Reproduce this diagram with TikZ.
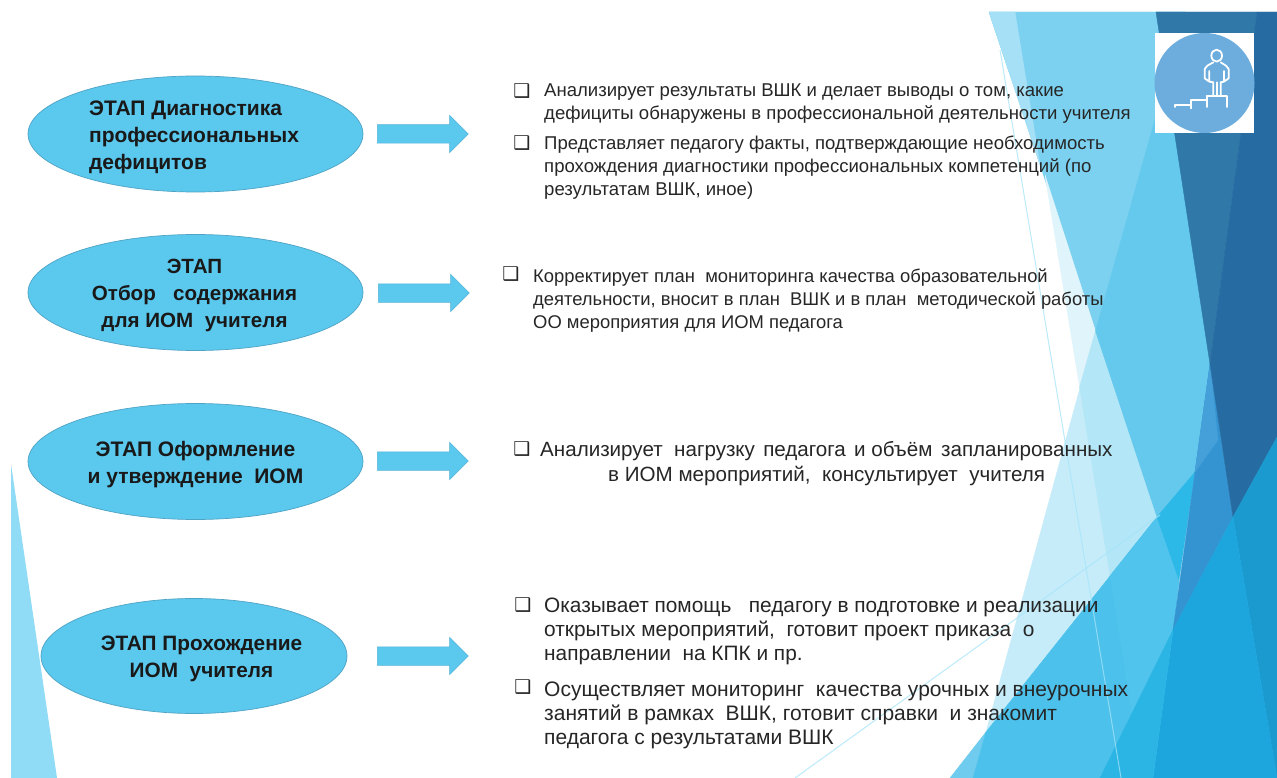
\documentclass[tikz,border=0pt]{standalone}
\usepackage{fontspec}
\setmainfont{Liberation Sans}
\newfontfamily\symfont{DejaVu Sans}
\usetikzlibrary{shapes.geometric,shapes.arrows}
\definecolor{txt}{HTML}{262626}
\definecolor{stagefill}{HTML}{5BC8EE}
\definecolor{stageedge}{HTML}{4FA3C4}
\definecolor{arrowedge}{HTML}{58B4D8}
\definecolor{cTri}{HTML}{90DBF6}
\definecolor{cA}{HTML}{7CD1F0}
\definecolor{cWedge}{HTML}{A5E0F6}
\definecolor{cB}{HTML}{64C9EC}
\definecolor{cT}{HTML}{C6ECF9}
\definecolor{cP}{HTML}{DFF4FB}
\definecolor{cTP}{HTML}{B3E6F6}
\definecolor{cLow}{HTML}{6FCCEE}
\definecolor{cC}{HTML}{4CC1EB}
\definecolor{cCr}{HTML}{50C4EC}
\definecolor{cW}{HTML}{2DB9E8}
\definecolor{cDl}{HTML}{2F78A8}
\definecolor{cDr}{HTML}{266BA1}
\definecolor{cSu}{HTML}{459FD8}
\definecolor{cSl}{HTML}{3494D1}
\definecolor{cEa}{HTML}{1A9ACE}
\definecolor{cEb}{HTML}{1DA6DD}
\definecolor{cEc}{HTML}{2AB5E5}
\definecolor{cThin}{HTML}{A5E4F9}
\definecolor{cIcon}{HTML}{6CADDE}
\tikzset{
  stage/.style={ellipse,draw=stageedge,line width=.7pt,fill=stagefill,inner sep=0pt,minimum width=335pt,minimum height=116pt},
  stagetext/.style={inner sep=0pt,text=black!90,font=\fontsize{21}{27}\selectfont\bfseries,yshift=-3pt},
  flow/.style={single arrow,draw=arrowedge,line width=.5pt,fill=stagefill,inner xsep=0pt,inner ysep=9pt,minimum width=37pt,minimum height=91pt,single arrow head extend=9.5pt,anchor=west},
  lst/.style={anchor=north west,inner sep=0pt,align=left,text=txt},
  small/.style={font=\fontsize{18.4}{23}\selectfont},
  smallb/.style={font=\fontsize{18.55}{23}\selectfont},
  large/.style={font=\fontsize{20.6}{24}\selectfont},
  largeb/.style={font=\fontsize{20.85}{24}\selectfont},
  largec/.style={font=\fontsize{21}{24}\selectfont},
  bul/.style={anchor=center,inner sep=0pt,text=txt,font=\symfont\fontsize{19}{19}\selectfont},
  iconline/.style={draw=white,line width=1.8pt,line cap=round,line join=round,fill=none},
  thin/.style={draw=cThin,line width=1pt,draw opacity=.75},
  facet/.style={fill=#1,draw=#1,line width=.4pt,line join=round}
}
\begin{document}
\begin{tikzpicture}[x=1pt,y=-1pt]
\useasboundingbox (0,0) rectangle (1277,778);
\fill[white] (0,0) rectangle (1277,778);
% left triangle
\fill[cTri] (11,464) -- (11,778) -- (57,778) -- cycle;
% right facets
\path[facet=cA] (989,12) -- (1185,12) -- (1095.5,331) -- cycle;
\path[facet=cWedge] (989,12) -- (1015,12) -- (1040,165) -- cycle;
\path[facet=cP] (1045,175) -- (1095.5,331) -- (1079.6,387) -- cycle;
\path[facet=cT] (1095.5,331) -- (1157,517) -- (986,732) -- cycle;
\path[facet=cTP] (1079.6,387) -- (1095.5,331) -- (1157,517) -- (1110,576) -- cycle;
\path[facet=cB] (1185,12) -- (1095.5,331) -- (1157,517) -- (1195,472) -- (1210,364) -- cycle;
\path[facet=cLow] (950,778) -- (973,778) -- (986,732) -- cycle;
\path[facet=cC] (986,732) -- (1157,517) -- (1179,580) -- (1173,630) -- (1100,778) -- (973,778) -- cycle;
\path[facet=cCr] (1110,576) -- (1157,517) -- (1179,580) -- (1173,630) -- (1132,713) -- cycle;
\path[facet=cW] (1157,517) -- (1195,472) -- (1179,580) -- cycle;
\path[facet=cSl] (1210,364) -- (1233,517) -- (1173,630) -- cycle;
\path[facet=cSu] (1210,364) -- (1218,440) -- (1195,472) -- cycle;
\path[facet=cDl] (1156,12) -- (1257,12) -- (1210,364) -- cycle;
\path[facet=cDr] (1257,12) -- (1277,12) -- (1277,437) -- (1233,517) -- (1210,364) -- cycle;
\path[facet=cEa] (1233,517) -- (1277,437) -- (1277,778) -- cycle;
\path[facet=cEb] (1233,517) -- (1277,778) -- (1153,778) -- (1173,630) -- cycle;
\path[facet=cEc] (1173,630) -- (1153,778) -- (1100,778) -- cycle;
% thin lines
\draw[thin] (1000,50) -- (1121,778);
\draw[thin] (795,778) -- (1160,515);
% icon
\fill[white] (1155,33) rectangle (1254,133);
\fill[cIcon] (1204.5,83) circle (50);
\begin{scope}[shift={(1150,25)},x=.3333pt,y=-.3333pt]
  \draw[iconline] (200,92) ellipse (16 and 18);
  \draw[iconline] (190,112) -- (172,122) -- (164,132) -- (164,160) -- (178,170) -- (178,138) (178,170) -- (190,172) -- (190,212);
  \draw[iconline] (212,112) -- (228,122) -- (236,132) -- (236,160) -- (222,170) -- (222,138) (222,170) -- (212,172) -- (212,212);
  \draw[iconline] (200,172) -- (200,212);
  \draw[iconline] (76,246) -- (76,240) -- (122,240) -- (122,224) -- (170,224) -- (170,246);
  \draw[iconline] (122,240) -- (122,250);
  \draw[iconline] (170,214) -- (232,214) -- (232,246);
  \draw[iconline] (170,214) -- (170,224);
\end{scope}
% stages
\node[stage] (s1) at (195.5,134) {};
\node[stage] (s2) at (195.5,292.5) {};
\node[stage] (s3) at (195.5,461.5) {};
\node[stage,minimum width=306pt,minimum height=115pt] (s4) at (194,656) {};
\node[stagetext,align=left,xshift=-1.5pt] (l1) at (s1.center) {ЭТАП Диагностика\\профессиональных\\дефицитов};
\node[stagetext,align=center,xshift=-1pt,font=\fontsize{20.6}{27}\selectfont\bfseries] (l2) at (s2.center) {ЭТАП\\Отбор~~ содержания\\для ИОМ~ учителя};
\node[stagetext,align=center] (l3) at (s3.center) {ЭТАП Оформление\\и утверждение~ ИОМ};
\node[stagetext,align=center,xshift=7.5pt,font=\fontsize{20.8}{27}\selectfont\bfseries] (l4) at (s4.center) {ЭТАП Прохождение\\ИОМ~ учителя};
% arrows
\node[flow] (a1) at (377,134) {};
\node[flow] (a2) at (378,293) {};
\node[flow] (a3) at (377,461) {};
\node[flow] (a4) at (377,656) {};
% lists
\node[bul] (b1) at (522,91) {❑};
\node[lst,smallb] (t1) at (544,84) {Анализирует результаты ВШК и делает выводы о том, какие\\дефициты обнаружены в профессиональной деятельности учителя};
\node[bul] (b2) at (522,143) {❑};
\node[lst,smallb] (t2) at (544,136) {Представляет педагогу факты, подтверждающие необходимость\\прохождения диагностики профессиональных компетенций (по\\результатам ВШК, иное)};
\node[bul] (b3) at (511,274) {❑};
\node[lst,small] (t3) at (533,269) {Корректирует план~ мониторинга качества образовательной\\деятельности, вносит в план~ ВШК и в план~ методической работы\\ОО мероприятия для ИОМ педагога};
\node[bul] (b4) at (522,449) {❑};
\node[lst,large] (t4) at (540,441) {Анализирует~ нагрузку\hspace{2.5pt} педагога\hspace{2.5pt} и объём\hspace{3pt} запланированных\\[1pt]\hspace*{68pt}в ИОМ мероприятий,~ консультирует~ учителя};
\node[bul] (b5) at (523,605) {❑};
\node[lst,largeb] (t5) at (544,598) {Оказывает помощь~~ педагогу в подготовке и реализации\\открытых мероприятий,~ готовит проект приказа~ о\\направлении~ на КПК и пр.};
\node[bul] (b6) at (523,687) {❑};
\node[lst,largec] (t6) at (544,682) {Осуществляет мониторинг~ качества урочных и внеурочных\\занятий в рамках~ ВШК, готовит справки~ и знакомит\\педагога с результатами ВШК};
\end{tikzpicture}
\end{document}
